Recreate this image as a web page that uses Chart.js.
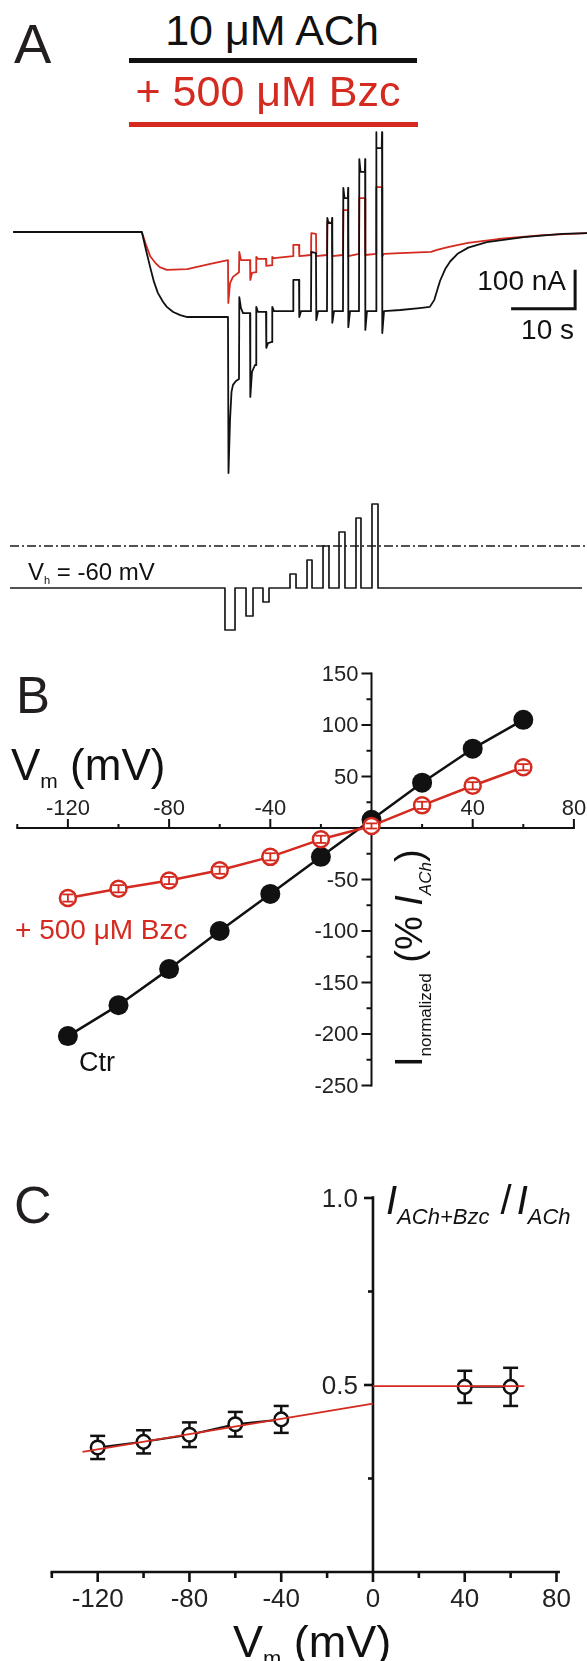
<!DOCTYPE html>
<html><head><meta charset="utf-8">
<script src="https://cdn.jsdelivr.net/npm/chart.js@4"></script>
<style>
html,body{margin:0;padding:0;background:#fff;}
body{width:587px;height:1661px;position:relative;overflow:hidden;font-family:"Liberation Sans",Arial,sans-serif;}
canvas{position:absolute;}
.t{position:absolute;white-space:nowrap;line-height:1;font-family:"Liberation Sans",Arial,sans-serif;}
</style></head><body>
<canvas id="cA" width="577" height="540" style="left:10px;top:110px"></canvas>
<canvas id="cB" width="587" height="470" style="left:0;top:640px"></canvas>
<canvas id="cC" width="587" height="531" style="left:0;top:1130px"></canvas>
<div style="position:absolute;left:129px;top:58px;width:288px;height:5px;background:#111"></div>
<div style="position:absolute;left:129px;top:122px;width:289px;height:5px;background:#d42a20"></div>
<script>
// ---------------- DATA ----------------
// Panel A: current traces, [time (s), current (nA)]
const ctrTrace = [
[0.5,0],[20.6,0],[21.25,-46],[21.9,-90],[22.5,-128],[23.1,-156],[23.9,-179],[24.5,-192],[25.5,-205],[26.6,-213],[27.7,-218],[34.06,-218],
[34.14,-618],[34.38,-482],[34.61,-410],[34.84,-392],[35.31,-382],[35.78,-377],[35.83,-167],[36.09,-195],[36.41,-208],[37.5,-208],
[37.55,-423],[37.81,-359],[38.28,-341],[38.44,-341],[38.48,-192],[38.75,-205],[40.0,-205],
[40.05,-297],[40.31,-285],[40.94,-282],[40.98,-192],[41.25,-203],[44.22,-203],
[44.27,-123],[45.16,-123],[45.2,-218],[45.47,-203],[47.03,-203],
[47.08,-51],[47.81,-54],[47.86,-226],[48.13,-203],[49.53,-203],
[49.58,36],[49.77,23],[50.29,23],[50.33,36],[50.36,-233],[50.63,-203],[52.03,-203],
[52.08,113],[52.27,87],[52.79,87],[52.83,113],[52.86,-244],[53.13,-203],[54.53,-203],
[54.58,187],[54.77,154],[55.45,154],[55.49,187],[55.52,-251],[55.78,-203],[57.19,-203],
[57.22,256],[57.27,215],[58.08,215],[58.13,256],[58.17,-259],[58.44,-203],
[61.0,-200],[64.0,-195],[65.6,-192],[66.3,-174],[67.2,-125],[68.0,-95],[68.8,-75],[70.0,-55],[71.6,-40],[74.5,-26],[80.3,-13],[86.3,-5],[90.16,-3]
];
const bzcTrace = [
[0.5,0],[20.6,0],[21.25,-33],[21.9,-62],[22.7,-79],[23.4,-90],[24.5,-97],[27.7,-95],[31.3,-82],[34.06,-72],
[34.11,-182],[34.38,-131],[34.84,-115],[35.78,-103],[35.83,-51],[36.09,-72],[37.5,-72],
[37.55,-123],[37.81,-105],[38.44,-103],[38.48,-64],[38.75,-69],[40.0,-69],
[40.05,-87],[40.94,-85],[40.98,-64],[41.25,-67],[44.22,-62],
[44.27,-33],[45.16,-33],[45.2,-62],[47.03,-59],
[47.08,-3],[47.81,-5],[47.86,-62],[49.53,-59],
[49.58,26],[50.31,23],[50.36,-62],[52.03,-59],
[52.08,56],[52.81,56],[52.86,-62],[54.53,-56],
[54.58,87],[55.47,87],[55.52,-59],[57.19,-56],
[57.23,115],[58.13,115],[58.17,-62],[58.44,-56],
[60.94,-54],[65.78,-51],[66.72,-46],[68.59,-38],[71.56,-28],[76.25,-18],[83.28,-8],[90.16,-3]
];
// Panel A: voltage protocol
const holdV = -60;
const protoStart = 0, protoEnd = 89.38;
const stepStart = [33.59,36.88,39.53,43.75,46.41,48.91,51.41,54.06,56.56];
const stepEnd   = [35.16,37.97,40.47,44.69,47.19,49.84,52.34,54.84,57.5];
const stepV     = [-120,-100,-80,-40,-20,0,20,40,60];
const refLineT = [0, 90.16];     // 0 mV reference line
const scaleBarT = [78.3, 88.3, 88.3];
const scaleBarI = [-197, -197, -97]; // 10 s / 100 nA

// Panel B: I-V
const vmB = [-120,-100,-80,-60,-40,-20,0,20,40,60];
const ctrI = [-202,-172,-137,-100,-64,-28,8,44,77,105];
const bzcI = [-68,-59,-51,-41,-28,-11,2,22,41,59];
const bzcErr = [3.5,3.5,3.5,3.5,3.5,3.5,2.5,3.5,3.5,3];
const bXTicks = [-140,-120,-100,-80,-60,-40,-20,0,20,40,60,80];
const bXLabels = [-120,-80,-40,40,80];
const bYLabels = [150,100,50,-50,-100,-150,-200,-250];

// Panel C: ratio
const vmC = [-120,-100,-80,-60,-40,40,60];
const ratio = [0.333,0.348,0.367,0.395,0.408,0.495,0.495];
const ratioErr = [0.031,0.031,0.033,0.033,0.036,0.043,0.051];
const fitVm = [-126.6, 0], fitR = [0.321, 0.450];
const satVm = [0, 66], satR = [0.497, 0.497];
const cXTicks = [-140,-120,-100,-80,-60,-40,-20,0,20,40,60,80];
const cXLabels = [-120,-80,-40,0,40,80];
const cYTicks = [0.25,0.5,0.75,1.0];
const cYLabels = [0.5,1.0];

// ---------------- STYLE ----------------
const RED = '#d42a20', BLK = '#111';
const FONT = '"Liberation Sans", Arial, sans-serif';
Chart.defaults.font.family = FONT;

const pts = (xs, ys) => xs.map((x,i)=>({x, y: ys[i]}));
const pairs = arr => arr.map(([x,y])=>({x,y}));

function protocol(){
  const p=[{x:protoStart,y:holdV}];
  stepStart.forEach((s,i)=>{ p.push({x:s,y:holdV},{x:s,y:stepV[i]},{x:stepEnd[i],y:stepV[i]},{x:stepEnd[i],y:holdV}); });
  p.push({x:protoEnd,y:holdV});
  return p;
}

// Panel A layout: 0 nA at canvas y=122 (0.39 px/nA), -60 mV at y=478 (0.7 px/mV), 6.4 px/s
const A_H = 540, A_W = 577, PX_S = 6.4, PX_NA = 0.39, PX_MV = 0.7;
const I0 = 122, V60 = 478;
const base = {responsive:false, animation:false, devicePixelRatio:1,
  plugins:{legend:{display:false}, tooltip:{enabled:false}},
  elements:{line:{tension:0, borderJoinStyle:'round'}, point:{hitRadius:0}}};

new Chart(document.getElementById('cA'), {
  type:'scatter',
  data:{datasets:[
    {data:pairs(ctrTrace), yAxisID:'y', borderColor:BLK, borderWidth:1.8, showLine:true, pointRadius:0, order:1, clip:false},
    {data:pairs(bzcTrace), yAxisID:'y', borderColor:RED, borderWidth:1.8, showLine:true, pointRadius:0, order:2, clip:false},
    {data:protocol(), yAxisID:'yV', borderColor:'#1a1a1a', borderWidth:1.7, showLine:true, pointRadius:0, order:3, clip:false},
    {data:pts(refLineT,[0,0]), yAxisID:'yV', borderColor:'#1a1a1a', borderWidth:1.4, borderDash:[9,3,2,3], showLine:true, pointRadius:0, order:4, clip:false},
    {data:pts(scaleBarT,scaleBarI), yAxisID:'y', borderColor:BLK, borderWidth:3, showLine:true, pointRadius:0, order:0, clip:false, borderJoinStyle:'miter'}
  ]},
  options:{...base, layout:{padding:0},
    scales:{
      x:{type:'linear', display:false, min:0, max:A_W/PX_S},
      y:{type:'linear', display:false, min:-(A_H-I0)/PX_NA, max:I0/PX_NA},
      yV:{type:'linear', display:false, min:holdV-(A_H-V60)/PX_MV, max:holdV+V60/PX_MV}
    }}
});

function line(ctx,x1,y1,x2,y2){ctx.beginPath();ctx.moveTo(x1,y1);ctx.lineTo(x2,y2);ctx.stroke();}

// Panel B
const axesB = {id:'axesB', beforeDatasetsDraw(chart){
  const ctx=chart.ctx, xs=chart.scales.x, ys=chart.scales.y;
  const y0=ys.getPixelForValue(0), x0=xs.getPixelForValue(0);
  ctx.save(); ctx.strokeStyle=BLK; ctx.lineWidth=2; ctx.lineCap='butt';
  line(ctx, xs.getPixelForValue(-140)-1, y0, xs.getPixelForValue(80)+1, y0);
  bXTicks.forEach(v=>{ if(v===0) return; const x=xs.getPixelForValue(v); const len=bXLabels.includes(v)?9:4; line(ctx,x,y0,x,y0-len); });
  line(ctx, x0, ys.getPixelForValue(-250)+1, x0, ys.getPixelForValue(150)-1);
  for(let v=-250; v<=150; v+=25){ if(v===0) continue; const y=ys.getPixelForValue(v); const len=(v%50===0)?10:5; line(ctx,x0,y,x0-len,y); }
  ctx.fillStyle='#222'; ctx.font='22px '+FONT; ctx.textAlign='center'; ctx.textBaseline='alphabetic';
  bXLabels.forEach(v=>ctx.fillText(String(v), xs.getPixelForValue(v), y0-13));
  ctx.textAlign='right'; ctx.textBaseline='middle';
  bYLabels.forEach(v=>ctx.fillText(String(v), x0-13, ys.getPixelForValue(v)+1));
  ctx.restore();
}, afterDatasetsDraw(chart){
  const ctx=chart.ctx, xs=chart.scales.x, ys=chart.scales.y;
  ctx.save(); ctx.lineWidth=1.8; ctx.strokeStyle=RED;
  bzcI.forEach((v,i)=>{ const x=xs.getPixelForValue(vmB[i]); const yt=ys.getPixelForValue(v+bzcErr[i]), yb=ys.getPixelForValue(v-bzcErr[i]);
      line(ctx,x,yt,x,yb); line(ctx,x-5.5,yt,x+5.5,yt); line(ctx,x-5.5,yb,x+5.5,yb); });
  ctx.restore();
}};

new Chart(document.getElementById('cB'), {
  type:'scatter',
  data:{datasets:[
    {data:pts(vmB,bzcI), borderColor:RED, borderWidth:2.5, showLine:true, pointRadius:8, pointBorderWidth:2.5, pointBackgroundColor:'#fff', pointBorderColor:RED, order:0, clip:false},
    {data:pts(vmB,ctrI), borderColor:BLK, borderWidth:2.5, showLine:true, pointRadius:10, pointBorderWidth:0, pointBackgroundColor:BLK, pointBorderColor:BLK, order:1, clip:false}
  ]},
  options:{...base, layout:{padding:{left:17.3,right:13.1,top:33.5,bottom:24.5}},
    scales:{x:{type:'linear',display:false,min:-140,max:80}, y:{type:'linear',display:false,min:-250,max:150}}},
  plugins:[axesB]
});

// Panel C
const axesC = {id:'axesC', beforeDatasetsDraw(chart){
  const ctx=chart.ctx, xs=chart.scales.x, ys=chart.scales.y;
  const y0=ys.getPixelForValue(0), x0=xs.getPixelForValue(0);
  ctx.save(); ctx.strokeStyle=BLK; ctx.lineWidth=2.6;
  line(ctx, xs.getPixelForValue(-140)-1.3, y0, xs.getPixelForValue(81.5), y0);
  cXTicks.forEach(v=>{ const x=xs.getPixelForValue(v); const len=cXLabels.includes(v)?10:6; line(ctx,x,y0,x,y0+len); });
  line(ctx, x0, y0, x0, ys.getPixelForValue(1.005));
  cYTicks.forEach(v=>{ const y=ys.getPixelForValue(v); const len=cYLabels.includes(v)?9:5; line(ctx,x0,y,x0-len,y); });
  ctx.fillStyle='#222'; ctx.font='26px '+FONT; ctx.textAlign='center'; ctx.textBaseline='alphabetic';
  cXLabels.forEach(v=>ctx.fillText(String(v), xs.getPixelForValue(v), y0+35));
  ctx.textAlign='right'; ctx.textBaseline='middle';
  cYLabels.forEach(v=>ctx.fillText(v.toFixed(1), x0-15, ys.getPixelForValue(v)+2));
  // error bars (under markers)
  ctx.lineWidth=2.5;
  vmC.forEach((vm,i)=>{ const x=xs.getPixelForValue(vm); const yt=ys.getPixelForValue(ratio[i]+ratioErr[i]), yb=ys.getPixelForValue(ratio[i]-ratioErr[i]);
    line(ctx,x,yt,x,yb); line(ctx,x-7.5,yt,x+7.5,yt); line(ctx,x-7.5,yb,x+7.5,yb); });
  ctx.restore();
}};

const nNeg = vmC.filter(v=>v<0).length;
new Chart(document.getElementById('cC'), {
  type:'scatter',
  data:{datasets:[
    {data:pts(fitVm,fitR), borderColor:RED, borderWidth:1.8, showLine:true, pointRadius:0, order:0, clip:false},
    {data:pts(satVm,satR), borderColor:RED, borderWidth:1.8, showLine:true, pointRadius:0, order:0, clip:false},
    {data:pts(vmC.slice(0,nNeg),ratio.slice(0,nNeg)), borderColor:BLK, borderWidth:2, showLine:true, pointRadius:6.8, pointBorderWidth:2.5, pointBackgroundColor:'#fff', pointBorderColor:BLK, order:1, clip:false},
    {data:pts(vmC.slice(nNeg),ratio.slice(nNeg)), borderColor:BLK, borderWidth:2, showLine:true, pointRadius:6.8, pointBorderWidth:2.5, pointBackgroundColor:'#fff', pointBorderColor:BLK, order:1, clip:false}
  ]},
  options:{...base, layout:{padding:{left:51.8,right:30.5,top:68,bottom:89}},
    scales:{x:{type:'linear',display:false,min:-140,max:80}, y:{type:'linear',display:false,min:0,max:1}}},
  plugins:[axesC]
});

// ---------------- TEXT ----------------
function txt(html, x, baseLine, size, o={}){
  const d=document.createElement('div'); d.className='t'; d.innerHTML=html;
  d.style.fontSize=size+'px'; d.style.top=(baseLine-0.8465*size)+'px';
  d.style.color=o.color||BLK;
  if(o.align==='center'){d.style.left=x+'px'; d.style.transform='translateX(-50%)';}
  else if(o.align==='right'){d.style.right=(587-x)+'px';}
  else d.style.left=x+'px';
  if(o.italic) d.style.fontStyle='italic';
  document.body.appendChild(d); return d;
}
const sub=(s,size,dy,extra='')=>`<span style="font-size:${size}px;position:relative;top:${dy}px;${extra}">${s}</span>`;

txt('A', 14, 63, 56, {color:'#231f20'});
txt('10 μM ACh', 272, 45, 43, {align:'center'});
txt('+ 500 μM Bzc', 268, 106, 43, {align:'center', color:RED});
txt('100 nA', 566, 291, 28, {align:'right'});
txt('10 s', 574, 340, 28, {align:'right'});
txt('V'+sub('h',11,4)+' = -60 mV', 28, 580, 24);

txt('B', 16, 713, 51, {color:'#231f20'});
txt('V'+sub('m',21,8)+' (mV)', 11, 780, 44);
txt('+ 500 μM Bzc', 15, 940, 28, {color:RED});
txt('Ctr', 79, 1072, 27);
// rotated y title of panel B
(function(){
  const fs=38, d=document.createElement('div'); d.className='t';
  d.style.fontSize=fs+'px'; d.style.left=(422-0.8465*fs)+'px'; d.style.top='1067px';
  d.style.transformOrigin='0 0'; d.style.transform='rotate(-90deg)'; d.style.color=BLK;
  d.innerHTML='I'+sub('normalized',17,9)+' (% <i>I</i>'+sub('ACh',17,9,'font-style:italic')+')';
  document.body.appendChild(d);
})();

txt('C', 14, 1223, 52, {color:'#231f20'});
txt('<i>I</i>'+sub('ACh+Bzc',22,10,'font-style:italic')+' /<i style="margin-left:5px">I</i>'+sub('ACh',22,10,'font-style:italic'), 386, 1214, 40);
txt('V'+sub('m',22,9)+' (mV)', 233, 1657, 45);
</script>
</body></html>
